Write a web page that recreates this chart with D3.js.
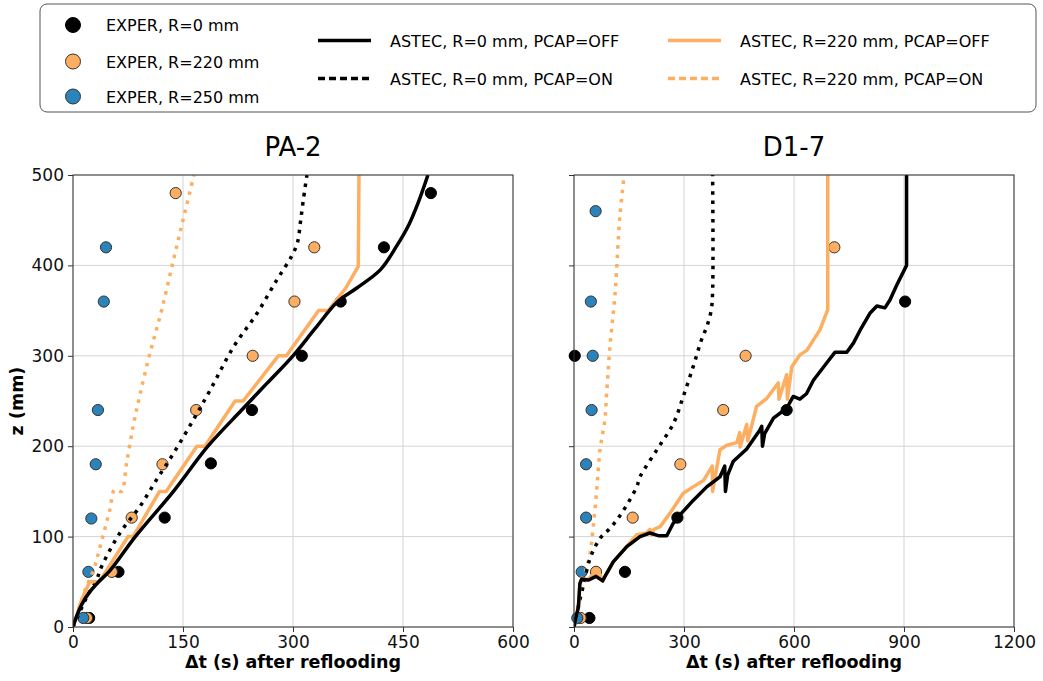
<!DOCTYPE html>
<html lang="en">
<head>
<meta charset="UTF-8">
<title>PA-2 / D1-7 quench front</title>
<script src="https://d3js.org/d3.v7.min.js"></script>
<style>
  body { margin: 0; background: #fff; }
  svg { font-family: "DejaVu Sans", sans-serif; }
</style>
</head>
<body>
<div id="chart"></div>
<script>
// experimental points, [dt (s), z (mm)]
var pa2ExpR0   = [[22,10],[62,61],[125,121],[188,181],[244,240],[312,300],[365,360],[424,420],[488,480]];
var pa2ExpR220 = [[19,10],[53,61],[80,121],[122,180],[168,240],[245,300],[302,360],[329,420],[140,480]];
var pa2ExpR250 = [[14,10],[21,61],[25,120],[31,180],[34,240],[42,360],[45,420]];

var d17ExpR0   = [[42,10],[139,61],[282,121],[580,240],[2,300],[903,360]];
var d17ExpR220 = [[18,10],[60,61],[160,121],[290,180],[407,240],[468,300],[710,420]];
var d17ExpR250 = [[9,10],[21,61],[33,121],[33,180],[48,240],[51,300],[46,360],[59,460]];

// ASTEC curves, [dt (s), z (mm)]
var pa2R0Off = [[0,0],[5,12],[12,25],[22,38],[35,50],[50,62],[85,100],[137,150],[184,200],[230,240],
  [265,270],[300,300],[330,330],[361,360],[387,375],[419,395],[441,421],[458,445],[471,470],[484,500]];
var pa2R0On = [[0,0],[10,18],[20,35],[32,52],[39,67],[64,104],[91,133],[114,163],[137,192],[164,229],
  [187,262],[219,310],[251,347],[278,384],[298,410],[306,425],[310,447],[314,472],[319,500]];
var pa2R220Off = [[0,0],[5,12],[10,26],[16,38],[23,50],[35,50],[40,55],[75,100],[82,100],[118,150],
  [127,150],[169,200],[180,200],[221,250],[232,250],[280,300],[291,300],[335,350],[348,350],[372,375],
  [389,399],[390,500]];
var pa2R220On = [[0,0],[8,20],[16,40],[28,63],[37,89],[50,129],[57,152],[66,150],[73,181],[82,222],
  [91,256],[105,303],[121,351],[137,406],[150,450],[165,500]];

var d17R0Off = [[0,0],[5,10],[12,22],[16,48],[21,53],[40,52],[60,56],[78,51],[90,60],[107,72],[144,89],
  [180,100],[207,104],[230,101],[253,101],[271,115],[289,124],[325,140],[362,155],[398,166],[411,178],
  [413,150],[419,168],[434,183],[471,197],[507,218],[512,222],[514,200],[520,214],[544,231],[580,242],
  [598,255],[616,252],[634,258],[653,273],[689,292],[712,304],[744,304],[762,314],[780,328],[807,347],
  [826,355],[848,353],[862,362],[880,378],[907,400],[907,500]];
var d17R0On = [[0,0],[10,20],[25,45],[44,76],[71,98],[98,109],[130,126],[171,155],[180,166],[226,196],
  [271,225],[298,255],[325,288],[348,318],[362,332],[374,350],[378,370],[378,500]];
var d17R220Off = [[0,0],[5,10],[12,22],[16,48],[21,54],[35,52],[53,58],[62,63],[72,57],[78,51],[94,63],
  [107,72],[135,85],[171,102],[198,104],[207,108],[212,102],[218,108],[235,111],[262,126],[298,148],
  [325,155],[353,162],[377,178],[378,150],[398,196],[417,201],[444,204],[452,215],[453,199],[471,224],
  [474,206],[498,244],[526,253],[557,270],[559,252],[580,279],[582,252],[594,288],[616,301],[635,306],
  [671,329],[692,351],[692,500]];
var d17R220On = [[0,0],[15,30],[30,59],[44,82],[53,113],[62,152],[71,196],[84,229],[89,258],[98,310],
  [112,369],[125,454],[137,500]];

var yTicks = [0,100,200,300,400,500];
var pa2XTicks = [0,150,300,450,600];
var d17XTicks = [0,300,600,900,1200];

var black = '#000000', orange = '#fdae61', blue = '#2b83ba';

var svg = d3.select('#chart').append('svg')
    .attr('width', 1043)
    .attr('height', 681);

function drawPanel(p) {
    var x = d3.scaleLinear().domain([0, p.xmax]).range([p.left, p.right]);
    var y = d3.scaleLinear().domain([0, 500]).range([627, 175]);
    var g = svg.append('g');

    var clipId = 'clip-' + p.id;
    g.append('clipPath').attr('id', clipId).append('rect')
        .attr('x', p.left).attr('y', 175)
        .attr('width', p.right - p.left).attr('height', 452);

    // grid
    g.append('g').selectAll('line').data(p.xTicks).enter().append('line')
        .attr('x1', d => x(d)).attr('x2', d => x(d))
        .attr('y1', 175).attr('y2', 627)
        .attr('stroke', '#d4d4d4').attr('stroke-width', 1);
    g.append('g').selectAll('line').data(yTicks).enter().append('line')
        .attr('y1', d => y(d)).attr('y2', d => y(d))
        .attr('x1', p.left).attr('x2', p.right)
        .attr('stroke', '#d4d4d4').attr('stroke-width', 1);

    // axes
    var xAxis = g.append('g').attr('transform', 'translate(0,627)')
        .call(d3.axisBottom(x).tickValues(p.xTicks).tickSize(5).tickPadding(4).tickFormat(d3.format('d')));
    var yAxis = g.append('g').attr('transform', 'translate(' + p.left + ',0)')
        .call(d3.axisLeft(y).tickValues(yTicks).tickSize(5).tickPadding(4)
            .tickFormat(p.showY ? d3.format('d') : ''));
    [xAxis, yAxis].forEach(function(a) {
        a.select('.domain').remove();
        a.selectAll('.tick line').attr('stroke', '#333');
        a.selectAll('.tick text').attr('font-size', 17).attr('fill', '#111')
            .attr('font-family', '"DejaVu Sans", sans-serif');
    });

    // points
    var pts = [[p.expR0, black, black], [p.expR220, orange, '#333'], [p.expR250, blue, '#333']];
    pts.forEach(function(s) {
        g.append('g').selectAll('circle').data(s[0]).enter().append('circle')
            .attr('cx', d => x(d[0])).attr('cy', d => y(d[1])).attr('r', 5.6)
            .attr('fill', s[1]).attr('stroke', s[2]).attr('stroke-width', 1);
    });

    // curves (smooth ones use catmull-rom, stepped ones stay linear)
    var curves = [
        [p.r220On, orange, '3.5,5.8', true],
        [p.r0On, black, '3.5,5.8', true],
        [p.r220Off, orange, null, false],
        [p.r0Off, black, null, p.smoothR0Off]
    ];
    curves.forEach(function(c) {
        var line = d3.line().x(d => x(d[0])).y(d => y(d[1]))
            .curve(c[3] ? d3.curveCatmullRom.alpha(0.5) : d3.curveLinear);
        g.append('path').datum(c[0])
            .attr('clip-path', 'url(#' + clipId + ')')
            .attr('d', line)
            .attr('fill', 'none')
            .attr('stroke', c[1])
            .attr('stroke-width', 3.5)
            .attr('stroke-linejoin', 'round')
            .attr('stroke-dasharray', c[2]);
    });

    // frame
    g.append('rect')
        .attr('x', p.left).attr('y', 175)
        .attr('width', p.right - p.left).attr('height', 452)
        .attr('fill', 'none').attr('stroke', '#333').attr('stroke-width', 1);

    // titles
    var cx = (p.left + p.right) / 2;
    g.append('text').attr('x', cx).attr('y', 156).attr('text-anchor', 'middle')
        .attr('font-size', 26).text(p.title);
    g.append('text').attr('x', cx).attr('y', 668).attr('text-anchor', 'middle')
        .attr('font-size', 17.5).attr('font-weight', 'bold').text('Δt (s) after reflooding');
}

drawPanel({id: 'pa2', title: 'PA-2', left: 73, right: 513, xmax: 600, xTicks: pa2XTicks, showY: true,
    smoothR0Off: true,
    expR0: pa2ExpR0, expR220: pa2ExpR220, expR250: pa2ExpR250,
    r0Off: pa2R0Off, r0On: pa2R0On, r220Off: pa2R220Off, r220On: pa2R220On});
drawPanel({id: 'd17', title: 'D1-7', left: 574, right: 1014, xmax: 1200, xTicks: d17XTicks, showY: false,
    smoothR0Off: false,
    expR0: d17ExpR0, expR220: d17ExpR220, expR250: d17ExpR250,
    r0Off: d17R0Off, r0On: d17R0On, r220Off: d17R220Off, r220On: d17R220On});

svg.append('text')
    .attr('transform', 'translate(23,401) rotate(-90)')
    .attr('text-anchor', 'middle')
    .attr('font-size', 17.5).attr('font-weight', 'bold')
    .text('z (mm)');

// legend
var legend = svg.append('g');
legend.append('rect')
    .attr('x', 40).attr('y', 4).attr('width', 996).attr('height', 108)
    .attr('rx', 7).attr('fill', '#fff').attr('stroke', '#555').attr('stroke-width', 1);

var markerItems = [
    {label: 'EXPER, R=0 mm', fill: black, stroke: black, y: 25},
    {label: 'EXPER, R=220 mm', fill: orange, stroke: '#333', y: 61.5},
    {label: 'EXPER, R=250 mm', fill: blue, stroke: '#333', y: 96.5}
];
markerItems.forEach(function(m) {
    legend.append('circle').attr('cx', 73).attr('cy', m.y).attr('r', 7.5)
        .attr('fill', m.fill).attr('stroke', m.stroke).attr('stroke-width', 1);
    legend.append('text').attr('x', 106).attr('y', m.y + 6)
        .attr('font-size', 16).text(m.label);
});

var lineItems = [
    {label: 'ASTEC, R=0 mm, PCAP=OFF', color: black, dash: null, x: 318, y: 40.5},
    {label: 'ASTEC, R=0 mm, PCAP=ON', color: black, dash: '7,4', x: 318, y: 78.5},
    {label: 'ASTEC, R=220 mm, PCAP=OFF', color: orange, dash: null, x: 668, y: 40.5},
    {label: 'ASTEC, R=220 mm, PCAP=ON', color: orange, dash: '7,4', x: 668, y: 78.5}
];
lineItems.forEach(function(l) {
    legend.append('line')
        .attr('x1', l.x).attr('x2', l.x + 53)
        .attr('y1', l.y).attr('y2', l.y)
        .attr('stroke', l.color).attr('stroke-width', 3.5)
        .attr('stroke-dasharray', l.dash);
    legend.append('text').attr('x', l.x + 72).attr('y', l.y + 6)
        .attr('font-size', 16).text(l.label);
});
</script>
</body>
</html>
